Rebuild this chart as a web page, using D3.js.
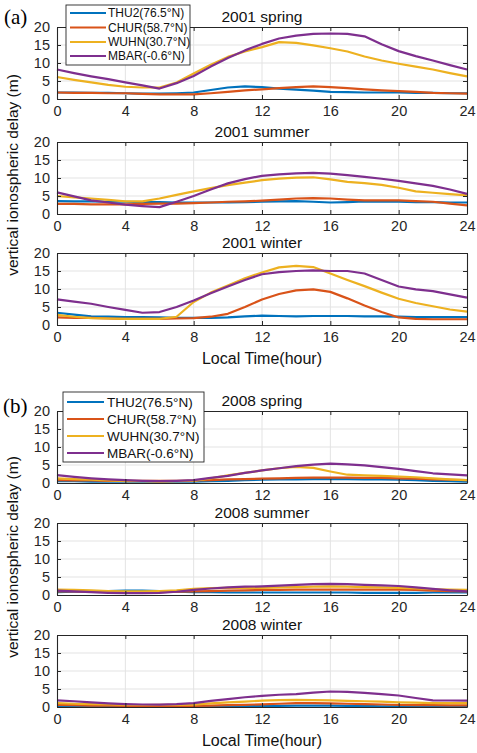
<!DOCTYPE html>
<meta charset="utf-8">
<style>
body { margin: 0; background: #fff; }
svg { font-family: Arial, "Liberation Sans", sans-serif; }
.grid line { stroke: #e3e3e3; stroke-width: 1; }
.axis path, .axis line { stroke: #262626; }
.axis text { fill: #262626; font-size: 14.5px; }
.series { fill: none; stroke-width: 2.2; stroke-linejoin: round; }
</style>
<body>
<script src="https://d3js.org/d3.v7.min.js"></script>
<script>
// local time (hour)
var hours = [0,1,2,3,4,5,6,7,8,9,10,11,12,13,14,15,16,17,18,19,20,21,22,23,24];
var xTicks = [0,4,8,12,16,20,24];
var yTicks = [0,5,10,15,20];

var stations = ["THU2(76.5°N)", "CHUR(58.7°N)", "WUHN(30.7°N)", "MBAR(-0.6°N)"];
var colors = ["#0072BD", "#D95319", "#EDB120", "#7E2F8E"];

// vertical ionospheric delay (m), one row per station: THU2, CHUR, WUHN, MBAR
var spring2001 = [
  [1.8,1.8,1.7,1.7,1.6,1.5,1.5,1.6,1.8,2.5,3.2,3.5,3.3,2.9,2.6,2.3,2.0,1.9,1.8,1.8,1.8,1.7,1.7,1.6,1.6],
  [1.8,1.7,1.7,1.6,1.6,1.4,1.3,1.3,1.3,1.6,2.0,2.4,2.7,3.0,3.3,3.5,3.3,3.0,2.7,2.4,2.2,2.0,1.7,1.6,1.5],
  [6.1,5.3,4.6,3.9,3.4,3.2,3.2,4.6,7.1,9.5,11.7,13.2,14.4,15.8,15.6,14.9,14.1,13.2,11.8,10.7,9.8,9.0,8.2,7.2,6.3],
  [8.2,7.2,6.3,5.5,4.6,3.8,2.9,4.4,6.4,9.0,11.4,13.5,15.3,16.8,17.6,18.1,18.2,18.1,17.4,15.2,13.3,11.9,10.7,9.4,8.2]
];
var summer2001 = [
  [3.6,3.5,3.5,3.4,3.4,3.3,3.3,3.2,3.2,3.2,3.2,3.3,3.4,3.5,3.6,3.4,3.2,3.3,3.5,3.4,3.4,3.3,3.3,3.2,3.2],
  [2.8,2.8,2.7,2.7,2.7,2.8,2.9,2.9,3.0,3.2,3.4,3.5,3.7,4.0,4.3,4.4,4.3,4.0,3.8,3.8,3.8,3.6,3.4,2.9,2.4],
  [5.0,4.6,4.3,3.9,3.5,3.5,4.3,5.3,6.3,7.2,8.0,8.7,9.4,9.8,10.1,10.2,9.6,8.9,8.6,8.1,7.3,6.3,5.9,5.5,5.2],
  [6.0,4.9,3.8,3.2,2.6,2.2,1.9,3.4,5.0,6.8,8.5,9.7,10.6,11.0,11.3,11.4,11.2,10.8,10.3,9.8,9.2,8.5,7.8,6.8,5.6]
];
var winter2001 = [
  [3.4,2.9,2.4,2.3,2.2,2.2,2.1,2.0,2.0,2.0,2.1,2.4,2.6,2.5,2.4,2.5,2.5,2.5,2.4,2.4,2.3,2.2,2.2,2.2,2.2],
  [2.1,2.0,2.0,1.8,1.7,1.7,1.7,1.8,1.9,2.3,3.1,5.0,7.1,8.6,9.6,9.9,9.2,7.4,5.4,3.6,2.1,1.7,1.6,1.6,1.6],
  [2.8,2.3,1.9,1.8,1.7,1.7,1.7,2.3,6.4,9.0,11.0,13.0,14.6,16.0,16.4,16.1,14.3,12.5,10.8,9.0,7.3,6.1,5.2,4.3,3.7],
  [7.1,6.5,5.9,5.0,4.2,3.4,3.6,5.0,6.8,8.8,10.7,12.5,14.1,14.7,15.0,15.2,15.0,15.0,14.3,12.5,10.7,9.9,9.4,8.5,7.6]
];
var spring2008 = [
  [0.5,0.5,0.4,0.4,0.4,0.4,0.4,0.4,0.4,0.5,0.6,0.8,0.9,1.0,1.0,1.1,1.1,1.1,1.0,1.0,0.9,0.8,0.6,0.5,0.4],
  [0.8,0.7,0.7,0.6,0.6,0.6,0.6,0.6,0.7,0.8,1.0,1.1,1.2,1.3,1.4,1.5,1.5,1.5,1.4,1.4,1.3,1.2,1.0,0.9,0.8],
  [1.3,1.1,0.9,0.7,0.5,0.5,0.4,0.5,0.6,1.3,2.1,2.8,3.5,4.1,4.5,4.2,3.2,2.3,2.1,2.0,1.8,1.6,1.3,1.0,0.8],
  [2.2,1.7,1.3,1.0,0.8,0.6,0.5,0.6,0.8,1.4,2.0,2.8,3.5,4.1,4.7,5.1,5.4,5.2,4.9,4.4,3.9,3.3,2.7,2.4,2.1]
];
var summer2008 = [
  [0.8,0.9,1.0,1.1,1.2,1.2,1.1,0.9,0.8,0.8,0.7,0.7,0.7,0.7,0.7,0.7,0.7,0.7,0.6,0.6,0.6,0.6,0.7,0.7,0.7],
  [1.0,1.0,0.9,0.9,0.8,0.8,0.8,0.9,1.0,1.1,1.2,1.3,1.4,1.4,1.5,1.5,1.5,1.5,1.5,1.5,1.5,1.4,1.2,1.1,1.0],
  [1.5,1.4,1.3,1.1,1.0,1.0,1.1,1.3,1.7,1.9,2.0,2.0,2.0,2.1,2.2,2.3,2.4,2.3,2.2,2.1,2.0,1.8,1.6,1.5,1.4],
  [1.2,1.0,0.8,0.6,0.5,0.5,0.6,0.9,1.4,1.8,2.1,2.3,2.4,2.6,2.8,3.0,3.1,3.0,2.8,2.7,2.5,2.1,1.7,1.3,1.0]
];
var winter2008 = [
  [0.2,0.2,0.2,0.15,0.15,0.1,0.1,0.1,0.1,0.2,0.2,0.3,0.3,0.3,0.4,0.4,0.4,0.3,0.3,0.2,0.2,0.2,0.1,0.1,0.1],
  [0.55,0.5,0.4,0.35,0.3,0.3,0.3,0.3,0.3,0.4,0.5,0.6,0.75,0.9,1.1,1.05,1.0,0.9,0.8,0.7,0.55,0.5,0.5,0.45,0.45],
  [1.1,0.9,0.8,0.7,0.55,0.55,0.6,0.6,0.65,1.0,1.3,1.5,1.75,1.9,2.0,1.9,1.85,1.7,1.6,1.5,1.3,1.2,1.1,1.1,1.1],
  [1.85,1.6,1.3,1.0,0.8,0.7,0.65,0.8,1.1,1.7,2.2,2.7,3.1,3.4,3.6,4.0,4.3,4.2,3.9,3.6,3.2,2.5,1.85,1.8,1.75]
];

var titles = ["2001 spring", "2001 summer", "2001 winter", "2008 spring", "2008 summer", "2008 winter"];
var panelData = [spring2001, summer2001, winter2001, spring2008, summer2008, winter2008];
var panelTops = [27, 142, 253, 411, 523, 635];
var panelH = 72;

var width = 477, height = 753;
var svg = d3.select("body").append("svg")
    .attr("width", width)
    .attr("height", height);

var x = d3.scaleLinear().domain([0, 24]).range([57, 467]);

panelData.forEach(function(rows, i) {
  var top = panelTops[i];
  var y = d3.scaleLinear().domain([0, 20]).range([top + panelH, top]);
  var g = svg.append("g");

  // grid
  var grid = g.append("g").attr("class", "grid");
  grid.selectAll(".vx").data(xTicks.slice(1, -1)).enter().append("line")
      .attr("x1", function(d) { return x(d); }).attr("x2", function(d) { return x(d); })
      .attr("y1", y(0)).attr("y2", y(20));
  grid.selectAll(".hy").data(yTicks.slice(1, -1)).enter().append("line")
      .attr("x1", x(0)).attr("x2", x(24))
      .attr("y1", function(d) { return y(d); }).attr("y2", function(d) { return y(d); });

  // lines
  var line = d3.line()
      .x(function(d, j) { return x(hours[j]); })
      .y(function(d) { return y(d); });
  g.selectAll(".series").data(rows).enter().append("path")
      .attr("class", "series")
      .attr("stroke", function(d, k) { return colors[k]; })
      .attr("d", line);

  // axes (box with inward ticks)
  g.append("g").attr("class", "axis")
      .attr("transform", "translate(0," + y(0) + ")")
      .call(d3.axisBottom(x).tickValues(xTicks).tickSizeInner(-4).tickSizeOuter(0).tickPadding(7));
  g.append("g").attr("class", "axis")
      .attr("transform", "translate(0," + y(20) + ")")
      .call(d3.axisTop(x).tickValues(xTicks).tickSizeInner(-4).tickSizeOuter(0).tickFormat(""));
  g.append("g").attr("class", "axis")
      .attr("transform", "translate(" + x(0) + ",0)")
      .call(d3.axisLeft(y).tickValues(yTicks).tickSizeInner(-4).tickSizeOuter(0).tickPadding(7));
  g.append("g").attr("class", "axis")
      .attr("transform", "translate(" + x(24) + ",0)")
      .call(d3.axisRight(y).tickValues(yTicks).tickSizeInner(-4).tickSizeOuter(0).tickFormat(""));
  g.selectAll(".axis .domain").attr("stroke-width", 1.1);

  // title
  g.append("text")
      .attr("x", (x(0) + x(24)) / 2)
      .attr("y", top - 5.5)
      .attr("text-anchor", "middle")
      .style("font-size", "15.5px")
      .style("fill", "#111")
      .text(titles[i]);
});

// legends
function legend(x0, y0, w, h, rowsY, lineX1, lineX2, textX, fs) {
  var lg = svg.append("g");
  lg.append("rect")
      .attr("x", x0).attr("y", y0).attr("width", w).attr("height", h)
      .attr("fill", "#fff").attr("stroke", "#262626").attr("stroke-width", 0.9);
  stations.forEach(function(s, k) {
    lg.append("line")
        .attr("x1", lineX1).attr("x2", lineX2)
        .attr("y1", rowsY[k]).attr("y2", rowsY[k])
        .attr("stroke", colors[k]).attr("stroke-width", 2.2);
    lg.append("text")
        .attr("x", textX).attr("y", rowsY[k])
        .attr("dy", "0.35em")
        .style("font-size", fs + "px")
        .style("fill", "#111")
        .text(s);
  });
}
legend(66, 5, 124, 60, [13, 27.5, 42, 56], 70, 106, 108, 12);
legend(63, 392, 141, 70, [402, 419, 436, 453], 67, 104, 107, 13.5);

// panel labels
[["(a)", 4, 24], ["(b)", 3, 413]].forEach(function(p) {
  svg.append("text")
      .attr("x", p[1]).attr("y", p[2])
      .style("font-family", "'Times New Roman', 'Liberation Serif', serif")
      .style("font-size", "21px")
      .text(p[0]);
});

// axis labels
[175, 557].forEach(function(cy) {
  svg.append("text")
      .attr("transform", "translate(18," + cy + ") rotate(-90)")
      .attr("text-anchor", "middle")
      .style("font-size", "15.5px")
      .style("fill", "#111")
      .text("vertical ionospheric delay (m)");
});
[364, 746].forEach(function(by) {
  svg.append("text")
      .attr("x", (x(0) + x(24)) / 2)
      .attr("y", by)
      .attr("text-anchor", "middle")
      .style("font-size", "16px")
      .style("fill", "#111")
      .text("Local Time(hour)");
});
</script>
</body>
